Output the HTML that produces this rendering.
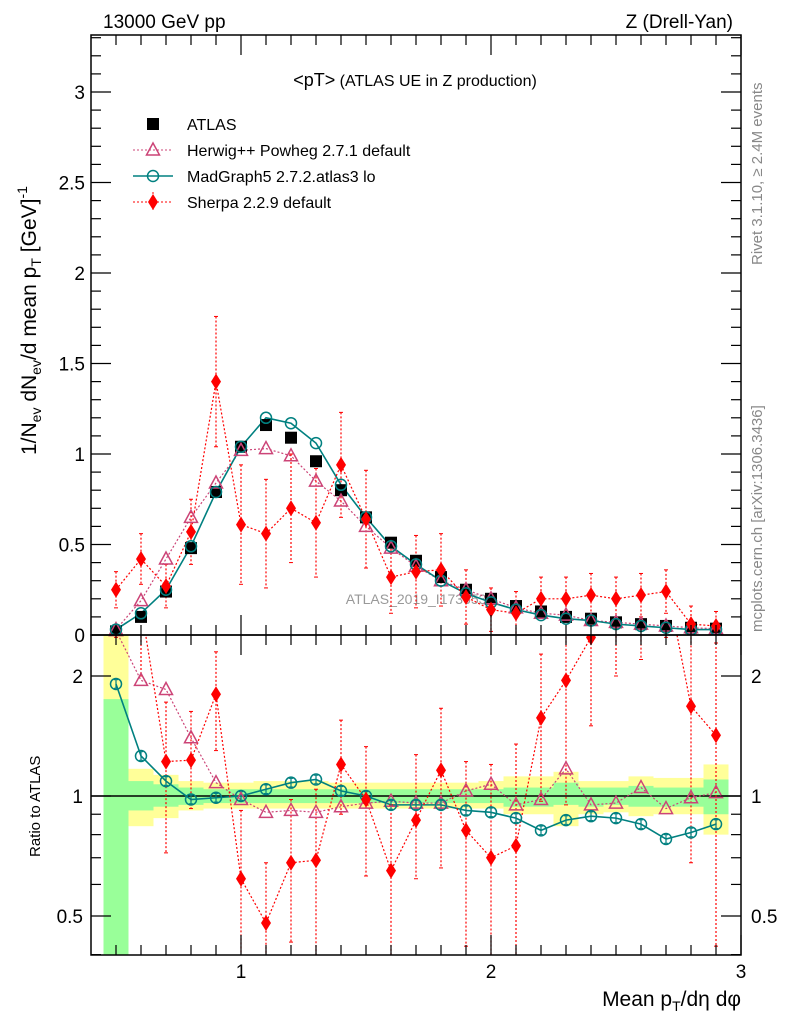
<!DOCTYPE html>
<html><head><meta charset="utf-8"><style>
body{margin:0;background:#fff;}
svg{display:block;font-family:"Liberation Sans",sans-serif;}
</style></head><body>
<svg id="c" width="786" height="1024" xmlns="http://www.w3.org/2000/svg">
<text x="103" y="28" font-size="19">13000 GeV pp</text>
<text x="733" y="28" font-size="19" text-anchor="end">Z (Drell-Yan)</text>
<text x="415" y="86" font-size="16" text-anchor="middle"><tspan font-size="18">&lt;pT&gt;</tspan> (ATLAS UE in Z production)</text>
<text x="420" y="604" font-size="14" fill="#999" text-anchor="middle">ATLAS_2019_I1736531</text>
<text transform="translate(762,265) rotate(-90)" font-size="15" fill="#888">Rivet 3.1.10, ≥ 2.4M events</text>
<text transform="translate(762,632) rotate(-90)" font-size="15" fill="#888">mcplots.cern.ch [arXiv:1306.3436]</text>
<text transform="translate(36,455) rotate(-90)" font-size="21">1/N<tspan font-size="14" dy="5">ev</tspan><tspan dy="-5"> dN</tspan><tspan font-size="14" dy="5">ev</tspan><tspan dy="-5">/d mean p</tspan><tspan font-size="14" dy="5">T</tspan><tspan dy="-5"> [GeV]</tspan><tspan font-size="14" dy="-9">-1</tspan></text>
<text transform="translate(40,857) rotate(-90)" font-size="15">Ratio to ATLAS</text>
<text x="741" y="1006" font-size="21" text-anchor="end">Mean p<tspan font-size="14" dy="5">T</tspan><tspan dy="-5">/dη dφ</tspan></text>
<g id="g"></g>
</svg>
<script>
const xs=[0.5,0.6,0.7,0.8,0.9,1.0,1.1,1.2,1.3,1.4,1.5,1.6,1.7,1.8,1.9,2.0,2.1,2.2,2.3,2.4,2.5,2.6,2.7,2.8,2.9];
const atlas=[0.02,0.10,0.24,0.48,0.79,1.04,1.16,1.09,0.96,0.80,0.65,0.51,0.41,0.32,0.25,0.20,0.16,0.13,0.10,0.09,0.07,0.06,0.05,0.04,0.035];
const herwig=[0.03,0.19,0.42,0.65,0.84,1.02,1.03,0.99,0.85,0.74,0.60,0.48,0.38,0.30,0.25,0.20,0.15,0.12,0.11,0.08,0.07,0.06,0.05,0.04,0.035];
const madgraph=[0.03,0.12,0.25,0.49,0.79,1.04,1.20,1.17,1.06,0.83,0.65,0.49,0.39,0.30,0.23,0.18,0.14,0.11,0.09,0.08,0.06,0.05,0.04,0.03,0.03];
const sherpa=[0.25,0.42,0.27,0.57,1.40,0.61,0.56,0.70,0.62,0.94,0.64,0.32,0.35,0.36,0.21,0.14,0.12,0.20,0.20,0.22,0.20,0.22,0.24,0.06,0.05];
const sherpaErr=[0.1,0.14,0.12,0.18,0.36,0.33,0.3,0.3,0.3,0.29,0.27,0.2,0.2,0.2,0.15,0.12,0.12,0.12,0.12,0.12,0.12,0.12,0.12,0.1,0.08];
const rHerwig=[2.6,1.95,1.85,1.40,1.08,0.98,0.91,0.92,0.91,0.94,0.96,0.97,0.96,0.96,1.03,1.07,0.95,0.98,1.17,0.95,0.96,1.05,0.93,0.99,1.02];
const rMad=[1.91,1.26,1.09,0.98,0.99,1.0,1.04,1.08,1.10,1.03,1.00,0.95,0.95,0.95,0.92,0.91,0.88,0.82,0.87,0.89,0.88,0.85,0.78,0.81,0.85];
const rSherpa=[3.5,3.0,1.22,1.23,1.80,0.62,0.48,0.68,0.69,1.20,0.98,0.65,0.87,1.16,0.82,0.70,0.75,1.57,1.95,2.50,3.0,3.2,3.5,1.68,1.42];
const rSherpaErrUp=[1,1,0.5,0.4,0.5,0.3,0.2,0.3,0.35,0.35,0.35,0.3,0.4,0.5,0.4,0.5,0.6,0.7,1,1,1,1,1,1,1];
const rSherpaErrDn=[1,1,0.5,0.3,0.5,0.3,0.2,0.25,0.3,0.3,0.35,0.3,0.25,0.5,0.4,0.5,0.5,0.6,1,1,1,1,1,1,1];
const greenLo=[0.34,0.92,0.94,0.95,0.96,0.96,0.96,0.96,0.96,0.96,0.96,0.96,0.96,0.96,0.96,0.96,0.94,0.94,0.95,0.94,0.95,0.94,0.94,0.94,0.9];
const greenHi=[1.75,1.09,1.07,1.05,1.04,1.04,1.04,1.04,1.04,1.04,1.04,1.04,1.04,1.04,1.04,1.04,1.05,1.05,1.08,1.05,1.05,1.06,1.05,1.05,1.1];
const yelLo=[0.3,0.84,0.88,0.92,0.93,0.93,0.93,0.93,0.93,0.93,0.93,0.93,0.93,0.93,0.93,0.93,0.9,0.9,0.84,0.9,0.91,0.89,0.9,0.9,0.8];
const yelHi=[2.6,1.17,1.13,1.09,1.08,1.08,1.09,1.09,1.09,1.08,1.08,1.08,1.08,1.08,1.08,1.09,1.12,1.12,1.15,1.09,1.09,1.12,1.11,1.11,1.2];
const NS="http://www.w3.org/2000/svg",G=document.getElementById('g');
const L=91,R=741,MT=35,MB=635,RB=955;
const X=v=>L+(v-0.4)*250;
const Y=v=>635-v*181;
const YR=v=>796-Math.log10(v)*398.6;
function el(t,a,p){const e=document.createElementNS(NS,t);for(const k in a)e.setAttribute(k,a[k]);(p||G).appendChild(e);return e;}
// clips
const defs=el('defs',{});
const c1=el('clipPath',{id:'cm'},defs);el('rect',{x:L,y:MT,width:R-L,height:MB-MT},c1);
const c2=el('clipPath',{id:'cr'},defs);el('rect',{x:L,y:MB,width:R-L,height:RB-MB},c2);
const gm=el('g',{'clip-path':'url(#cm)'});
const gr=el('g',{'clip-path':'url(#cr)'});
// bands
xs.forEach((x,i)=>{
 const a=el('rect',{x:X(x-0.05),y:YR(yelHi[i]),width:25,height:YR(yelLo[i])-YR(yelHi[i]),fill:'#ffff99'},gr);
 
 const b=el('rect',{x:X(x-0.05),y:YR(greenHi[i]),width:25,height:YR(greenLo[i])-YR(greenHi[i]),fill:'#99ff99'},gr);
 
});
el('line',{x1:L,x2:R,y1:YR(1),y2:YR(1),stroke:'#000','stroke-width':1.5},gr);
function poly(g,vals,f,col,dash,w,name){const p=el('polyline',{points:xs.map((x,i)=>X(x)+','+f(vals[i])).join(' '),fill:'none',stroke:col,'stroke-width':w,'stroke-dasharray':dash||''},g);}
function tri(g,x,y,col,name){const p=el('path',{d:`M${x},${y-7}L${x+6.5},${y+5}L${x-6.5},${y+5}Z`,fill:'none',stroke:col,'stroke-width':1.5},g);}
function circ(g,x,y,col,name){const p=el('circle',{cx:x,cy:y,r:5.5,fill:'none',stroke:col,'stroke-width':1.5},g);}
function dia(g,x,y,col,name){const p=el('path',{d:`M${x},${y-8}L${x+5},${y}L${x},${y+8}L${x-5},${y}Z`,fill:col},g);}
function sq(g,x,y,name){const p=el('rect',{x:x-6,y:y-6,width:12,height:12,fill:'#000'},g);}
function err(g,x,y1,y2,col,dash){el('line',{x1:x,x2:x,y1:y1,y2:y2,stroke:col,'stroke-width':1.2,'stroke-dasharray':dash||''},g);el('line',{x1:x-2,x2:x+2,y1:y1,y2:y1,stroke:col},g);el('line',{x1:x-2,x2:x+2,y1:y2,y2:y2,stroke:col},g);}
const HC='#cc4477',MC='#008080',SC='#ff0000';
// main
poly(gm,herwig,Y,HC,'2,2',1.2,'herwig-line');
poly(gm,madgraph,Y,MC,'',1.6,'madgraph-line');
poly(gm,sherpa,Y,SC,'2,2',1.2,'sherpa-line');
xs.forEach((x,i)=>{
 err(gm,X(x),Y(sherpa[i]+sherpaErr[i]),Y(Math.max(0,sherpa[i]-sherpaErr[i])),SC,'2,2');
 sq(gm,X(x),Y(atlas[i]),'atlas-point');
 tri(gm,X(x),Y(herwig[i]),HC,'herwig-point');
 circ(gm,X(x),Y(madgraph[i]),MC,'madgraph-point');
 dia(gm,X(x),Y(sherpa[i]),SC,'sherpa-point');
});
// ratio
poly(gr,rHerwig,YR,HC,'2,2',1.2,'herwig-ratio-line');
poly(gr,rMad,YR,MC,'',1.6,'madgraph-ratio-line');
poly(gr,rSherpa,YR,SC,'2,2',1.2,'sherpa-ratio-line');
xs.forEach((x,i)=>{
 err(gr,X(x),YR(rSherpa[i]+rSherpaErrUp[i]),YR(Math.max(0.05,rSherpa[i]-rSherpaErrDn[i])),SC,'2,2');
 err(gr,X(x),YR(rMad[i]*1.025),YR(rMad[i]/1.025),MC,'');
 tri(gr,X(x),YR(rHerwig[i]),HC,'herwig-ratio-point');
 circ(gr,X(x),YR(rMad[i]),MC,'madgraph-ratio-point');
 dia(gr,X(x),YR(rSherpa[i]),SC,'sherpa-ratio-point');
});
// frames
el('rect',{x:L,y:MT,width:R-L,height:MB-MT,fill:'none',stroke:'#000','stroke-width':1.5});
el('rect',{x:L,y:MB,width:R-L,height:RB-MB,fill:'none',stroke:'#000','stroke-width':1.5});
function tk(x1,y1,x2,y2){el('line',{x1,y1,x2,y2,stroke:'#000','stroke-width':1.2});}
function lab(x,y,t,anchor,name){const e=el('text',{x,y,'font-size':19,'text-anchor':anchor});e.textContent=t;}
const mainTicks=['0','0.5','1','1.5','2','2.5','3'];
for(let v=0;v<=3.3001;v+=0.1){const y=Y(v);const maj=Math.abs(v*2-Math.round(v*2))<1e-6;const l=maj?20:10;tk(L,y,L+l,y);tk(R,y,R-l,y);}
mainTicks.forEach(t=>lab(L-6,Y(+t)+7,t,'end','y-tick-label'));
const rMinor=[0.4,0.5,0.6,0.7,0.8,0.9,1,2];
const rMajor=['0.5','1','2'];
rMinor.forEach(v=>{const y=YR(v);const l=rMajor.includes(String(v))?20:10;tk(L,y,L+l,y);tk(R,y,R-l,y);});
rMajor.forEach(t=>{lab(L-8,YR(+t)+7,t,'end','ratio-tick-label');lab(R+10,YR(+t)+7,t,'start','ratio-tick-label-right');});
for(let v=0.5;v<=3.0001;v+=0.1){const x=X(v);const maj=Math.abs(v-Math.round(v))<1e-6;const l=maj?20:10;[MB,RB].forEach(b=>tk(x,b,x,b-l));[MT,MB].forEach(t=>tk(x,t,x,t+l));}
const xTicks=['1','2','3'];
xTicks.forEach(t=>lab(X(+t),978,t,'middle','x-tick-label'));
// legend
const lg=el('g',{});
const items=[['ATLAS','a'],['Herwig++ Powheg 2.7.1 default','h'],['MadGraph5 2.7.2.atlas3 lo','m'],['Sherpa 2.2.9 default','s']];
items.forEach((it,i)=>{const y=124+i*26;const x=153;
 if(it[1]=='a')sq(lg,x,y,'legend-atlas-marker');
 if(it[1]=='h'){el('line',{x1:133,x2:173,y1:y,y2:y,stroke:HC,'stroke-dasharray':'2,2'},lg);tri(lg,x,y,HC,'legend-herwig-marker');}
 if(it[1]=='m'){el('line',{x1:133,x2:173,y1:y,y2:y,stroke:MC,'stroke-width':1.6},lg);circ(lg,x,y,MC,'legend-madgraph-marker');}
 if(it[1]=='s'){el('line',{x1:133,x2:173,y1:y,y2:y,stroke:SC,'stroke-dasharray':'2,2'},lg);el('line',{x1:x,x2:x,y1:y-10,y2:y+10,stroke:SC,'stroke-dasharray':'2,2'},lg);dia(lg,x,y,SC,'legend-sherpa-marker');}
 const t=el('text',{x:187,y:y+6,'font-size':16},lg);t.textContent=it[0];
});
</script>
</body></html>
